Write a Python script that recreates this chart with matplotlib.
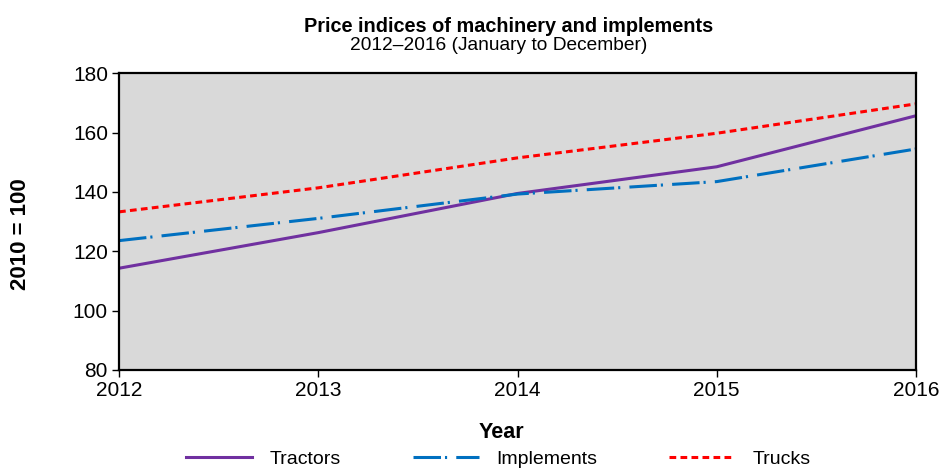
import matplotlib.pyplot as plt

plt.rcParams['font.family'] = ['Liberation Sans', 'DejaVu Sans']

years = [2012, 2013, 2014, 2015, 2016]
tractors = [114.3, 126.3, 139.5, 148.5, 165.7]
implements = [123.6, 131.1, 139.3, 143.5, 154.5]
trucks = [133.3, 141.4, 151.5, 159.8, 169.7]

fig = plt.figure(figsize=(9.41, 4.70), dpi=100)
ax = fig.add_axes([0.1265, 0.2128, 0.8469, 0.6312])
ax.set_facecolor('#d9d9d9')

ax.plot(years, tractors, color='#7030a0', lw=2.2, label='Tractors')
ax.plot(years, implements, color='#0070c0', lw=2.2, dashes=(9, 1.3, 0.7, 3), label='Implements')
ax.plot(years, trucks, color='#ff0000', lw=2.2, dashes=(2.2, 1.4), label='Trucks')

ax.set_xlim(2012, 2016)
ax.set_ylim(80, 180)
ax.set_xticks(years)
ax.set_yticks(range(80, 181, 20))
ax.tick_params(labelsize=15, direction='out', length=5, width=1, pad=3)
for s in ax.spines.values():
    s.set_linewidth(1.6)

ax.set_xlabel('Year', fontsize=15.5, fontweight='bold')
ax.xaxis.set_label_coords(0.48, -0.175)
ax.set_ylabel('2010 = 100', fontsize=16, fontweight='bold')
ax.yaxis.set_label_coords(-0.11, 0.458)

fig.text(0.54, 0.932, 'Price indices of machinery and implements',
         ha='center', va='baseline', fontsize=14.3, fontweight='bold')
fig.text(0.53, 0.893, '2012\u20132016 (January to December)',
         ha='center', va='baseline', fontsize=13.8)

ax.legend(loc='center', bbox_to_anchor=(0.476, -0.300), ncol=3, frameon=False,
          fontsize=14, handlelength=3.4, handletextpad=0.9, columnspacing=3.7,
          borderpad=0)

fig.savefig('out.png', dpi=100)
